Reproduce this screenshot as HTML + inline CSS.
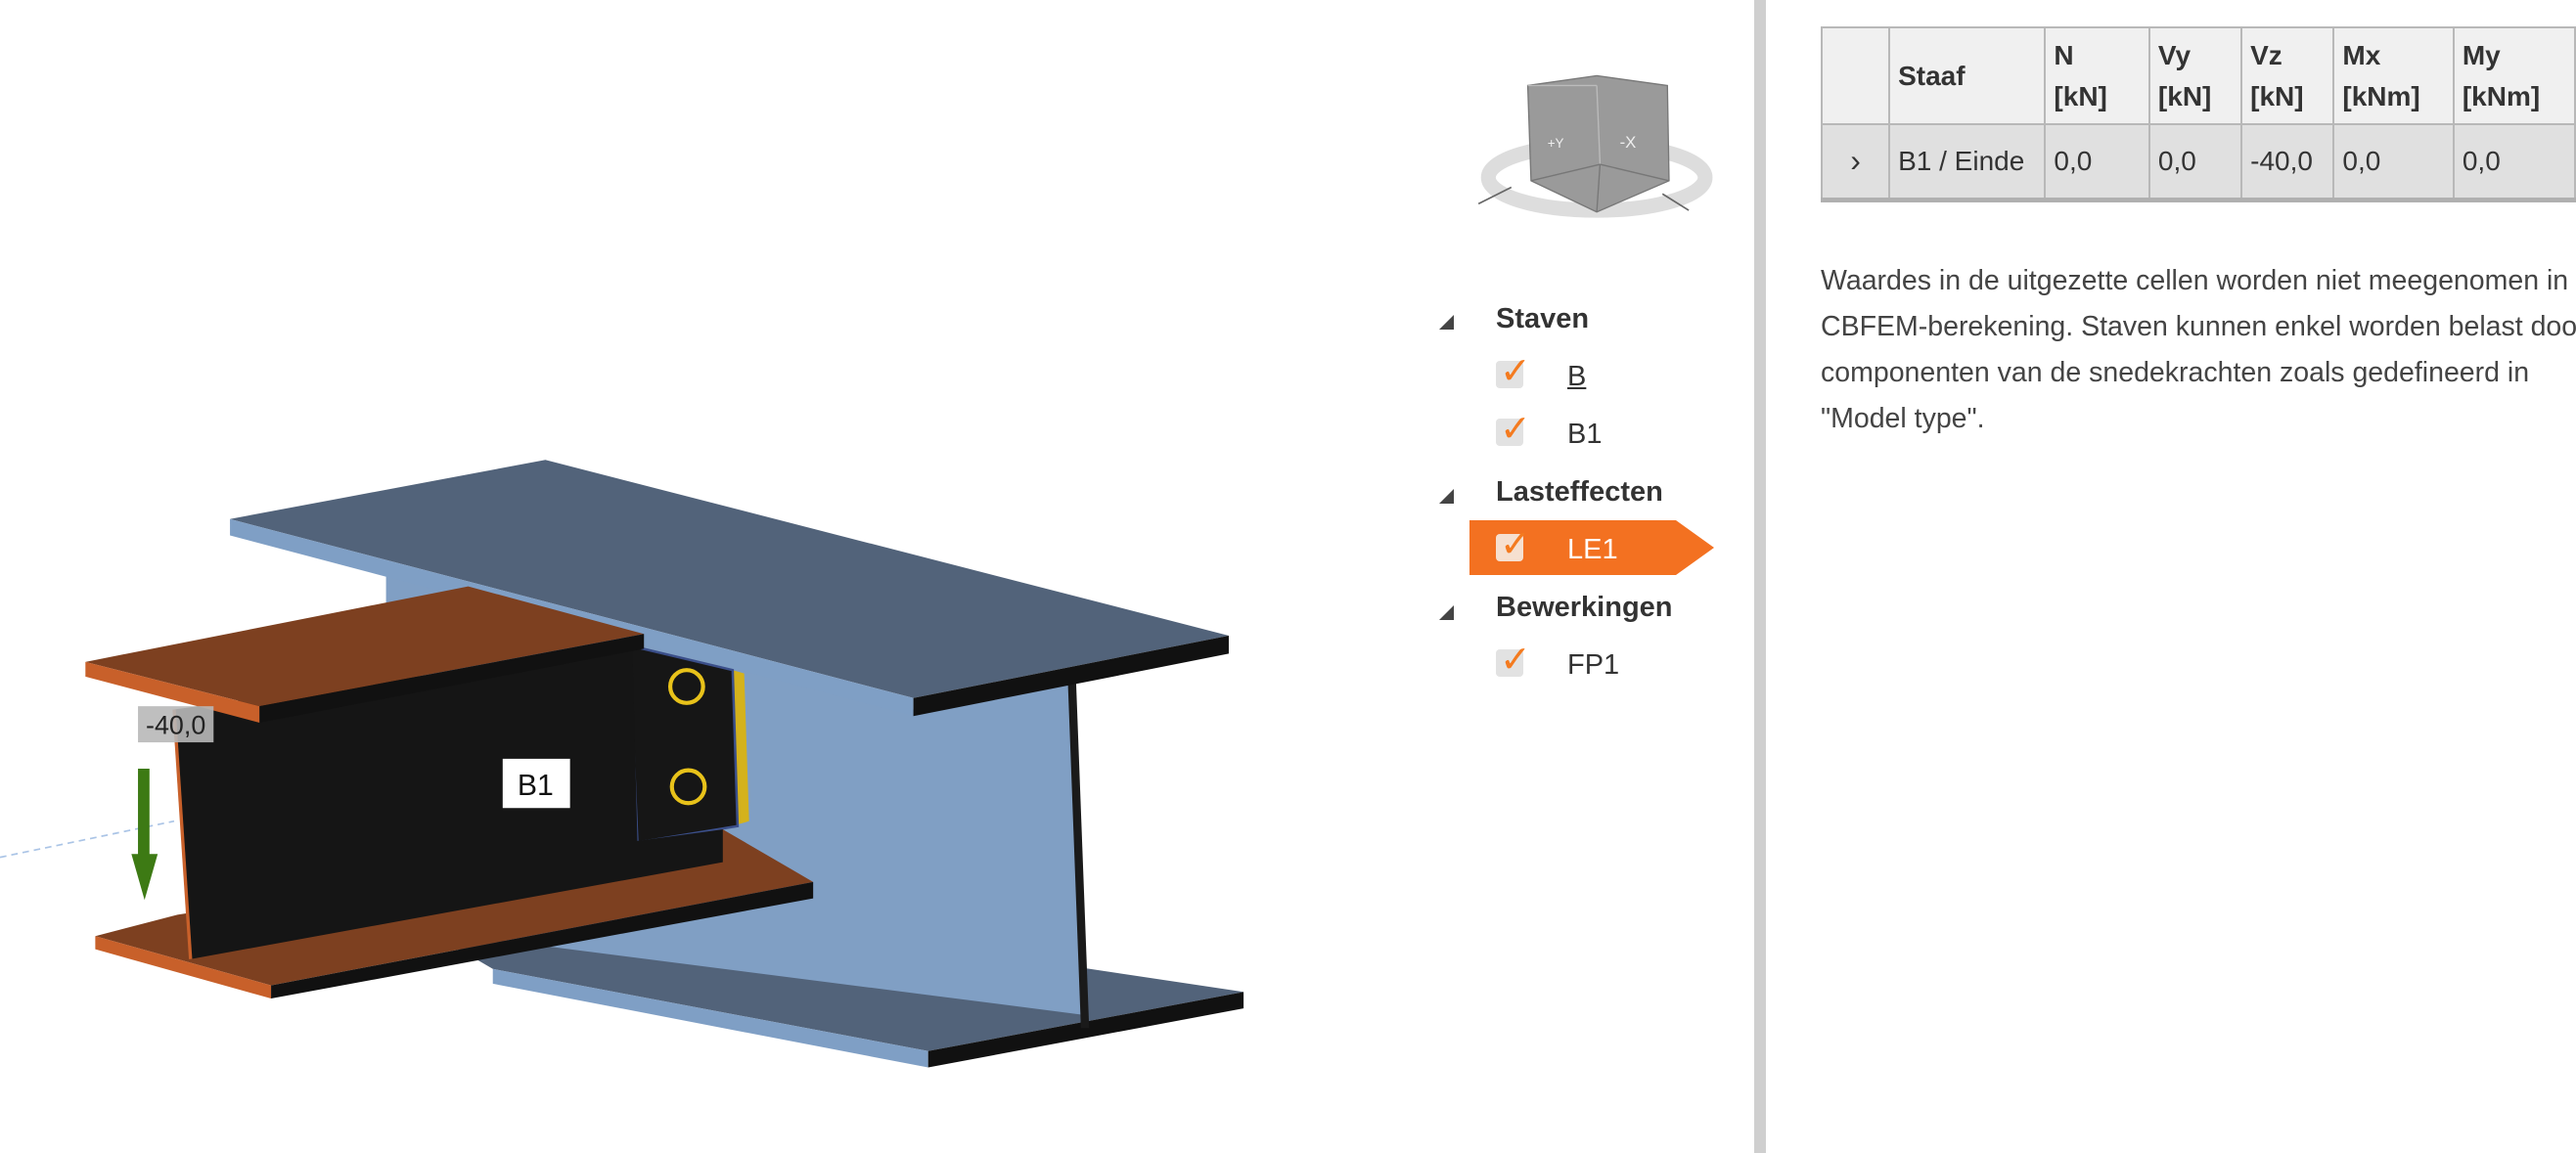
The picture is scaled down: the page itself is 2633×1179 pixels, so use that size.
<!DOCTYPE html>
<html><head><meta charset="utf-8"><style>
*{margin:0;padding:0;box-sizing:border-box}
body{width:2633px;height:1179px;background:#fff;position:relative;overflow:hidden;font-family:"Liberation Sans",sans-serif;color:#333}
.abs{position:absolute}
.div{left:1793px;top:0;width:12px;height:1179px;background:#cfcfcf}
.grp{font-weight:bold;font-size:29px;color:#333;left:1529px}
.tri{left:1471px;width:0;height:0;border-left:15px solid transparent;border-bottom:15px solid #444}
.itm{font-size:29px;left:1602px;color:#333}
.cb{left:1529px;width:28px;height:28px;background:#e2e2e2;border-radius:4px}
.ck{left:1533px;font-size:38px;color:#f47b20;line-height:1}
table{border-collapse:collapse;font-size:28px;color:#333}
td{border:2px solid #b8b8b8;padding:0 8px;vertical-align:middle;white-space:nowrap}
.p{left:1861px;font-size:28.5px;color:#444;white-space:nowrap;line-height:47px}
</style></head><body>

<svg class="abs" style="left:0;top:0" width="1800" height="1179" viewBox="0 0 1072 702">
<line x1="0" y1="522" x2="106" y2="500" stroke="#aac4e6" stroke-width="1" stroke-dasharray="4,3"/>
<!-- main beam bottom flange -->
<polygon points="240,555 330,540 757,604 565,640 300,590" fill="#52637a"/>
<polygon points="300,590 565,640 565,650 300,599" fill="#7f9fc5"/>
<polygon points="565,640 757,604 757,614 565,650" fill="#111"/>
<!-- main beam web -->
<polygon points="235,345 556,432 652,414 660,618 300,572 235,560" fill="#809fc4"/>
<polygon points="650,414 655,414 663,626 658,626" fill="#1a1a1a"/>
<!-- main beam top flange -->
<polygon points="140,316 332,280 748,387 556,425" fill="#52637a"/>
<polygon points="140,316 556,425 556,436 140,326" fill="#7f9fc5"/>
<polygon points="556,425 748,387 748,398 556,436" fill="#111"/>
<polygon points="446,408 453,410 456,500 449,502" fill="#d4b21c"/>
<polygon points="383,393 446,408 449,503 388,513" fill="#161616" stroke="#3b4f8a" stroke-width="1.5"/>
<circle cx="418" cy="418" r="10" fill="none" stroke="#e8c21a" stroke-width="2.5"/>
<circle cx="419" cy="479" r="10" fill="none" stroke="#e8c21a" stroke-width="2.5"/>
<!-- B1 bottom flange -->
<polygon points="58,570 108,557 440,505 495,537 165,600" fill="#7d4020"/>
<polygon points="58,570 165,600 165,608 58,578" fill="#c8602a"/>
<polygon points="165,600 495,537 495,547 165,608" fill="#111"/>
<!-- B1 web -->
<polygon points="106,432 385,394 388,512 440,505 440,525 116,584" fill="#151515"/>
<line x1="106" y1="432" x2="116" y2="584" stroke="#c8602a" stroke-width="2"/>
<!-- B1 top flange -->
<polygon points="52,403 285,357 392,386 158,430" fill="#7d4020"/>
<polygon points="52,403 158,430 158,440 52,412" fill="#c8602a"/>
<polygon points="158,430 392,386 392,395 158,440" fill="#111"/>
<polygon points="84,468 91,468 91,520 96,520 88,548 80,520 84,520" fill="#3d7a14"/>
<rect x="84" y="430" width="46" height="22" fill="#b8b8b8" opacity="0.9"/>
<text x="107" y="447" font-size="16" text-anchor="middle" fill="#222" font-family="Liberation Sans Narrow, Liberation Sans, sans-serif">-40,0</text>
<rect x="306" y="462" width="41" height="30" fill="#fff"/>
<text x="326" y="484" font-size="18" text-anchor="middle" fill="#111" font-family="Liberation Sans, sans-serif">B1</text>
<!-- view cube -->
<ellipse cx="972" cy="108" rx="66" ry="20" fill="none" stroke="#ddd" stroke-width="9"/>
<polygon points="930,52 972,46 1015,52 1016,110 972,129 932,110" fill="#9a9a9a" stroke="#777" stroke-width="0.8"/>
<line x1="972" y1="52" x2="974" y2="100" stroke="#bbb" stroke-width="0.8"/>
<line x1="930" y1="52" x2="972" y2="52" stroke="#bbb" stroke-width="0.8"/>
<line x1="974" y1="100" x2="972" y2="129" stroke="#777" stroke-width="0.8"/>
<line x1="974" y1="100" x2="1016" y2="110" stroke="#777" stroke-width="0.8"/>
<line x1="974" y1="100" x2="932" y2="110" stroke="#777" stroke-width="0.8"/>
<text x="942" y="90" font-size="8" fill="#eee">+Y</text>
<text x="986" y="90" font-size="10" fill="#eee">-X</text>
<line x1="900" y1="124" x2="920" y2="114" stroke="#666" stroke-width="1"/>
<line x1="1012" y1="118" x2="1028" y2="128" stroke="#666" stroke-width="1"/>
</svg>

<div class="abs div"></div>

<div class="abs tri" style="top:322px"></div>
<div class="abs grp" style="top:310px">Staven</div>
<div class="abs cb" style="top:369px"></div><div class="abs ck" style="top:361px">✓</div>
<div class="abs itm" style="top:369px;text-decoration:underline">B</div>
<div class="abs cb" style="top:428px"></div><div class="abs ck" style="top:420px">✓</div>
<div class="abs itm" style="top:428px">B1</div>
<div class="abs tri" style="top:500px"></div>
<div class="abs grp" style="top:487px">Lasteffecten</div>
<svg class="abs" style="left:1502px;top:532px" width="250" height="56"><polygon points="0,0 211,0 250,28 211,56 0,56" fill="#f37121"/></svg>
<div class="abs cb" style="top:546px;background:#f6e0d0"></div><div class="abs ck" style="top:538px">✓</div>
<div class="abs itm" style="top:546px;color:#fff">LE1</div>
<div class="abs tri" style="top:619px"></div>
<div class="abs grp" style="top:605px">Bewerkingen</div>
<div class="abs cb" style="top:664px"></div><div class="abs ck" style="top:656px">✓</div>
<div class="abs itm" style="top:664px">FP1</div>

<table class="abs" style="left:1861px;top:27px;border-bottom:5px solid #b0b0b0">
<tr style="height:99px;background:#f0f0f0;font-weight:bold">
<td style="width:78px"></td>
<td style="width:162px">Staaf</td>
<td style="width:114px;line-height:42px">N<br>[kN]</td>
<td style="width:99px;line-height:42px">Vy<br>[kN]</td>
<td style="width:97px;line-height:42px">Vz<br>[kN]</td>
<td style="width:128px;line-height:42px">Mx<br>[kNm]</td>
<td style="width:130px;line-height:42px">My<br>[kNm]</td>
</tr>
<tr style="height:77px;background:#e0e0e0">
<td style="text-align:center;font-size:32px">›</td>
<td>B1 / Einde</td><td>0,0</td><td>0,0</td><td>-40,0</td><td>0,0</td><td>0,0</td>
</tr>
</table>

<div class="abs p" style="top:264px">Waardes in de uitgezette cellen worden niet meegenomen in de</div>
<div class="abs p" style="top:311px">CBFEM-berekening. Staven kunnen enkel worden belast door</div>
<div class="abs p" style="top:358px">componenten van de snedekrachten zoals gedefineerd in</div>
<div class="abs p" style="top:405px">"Model type".</div>
</body></html>
